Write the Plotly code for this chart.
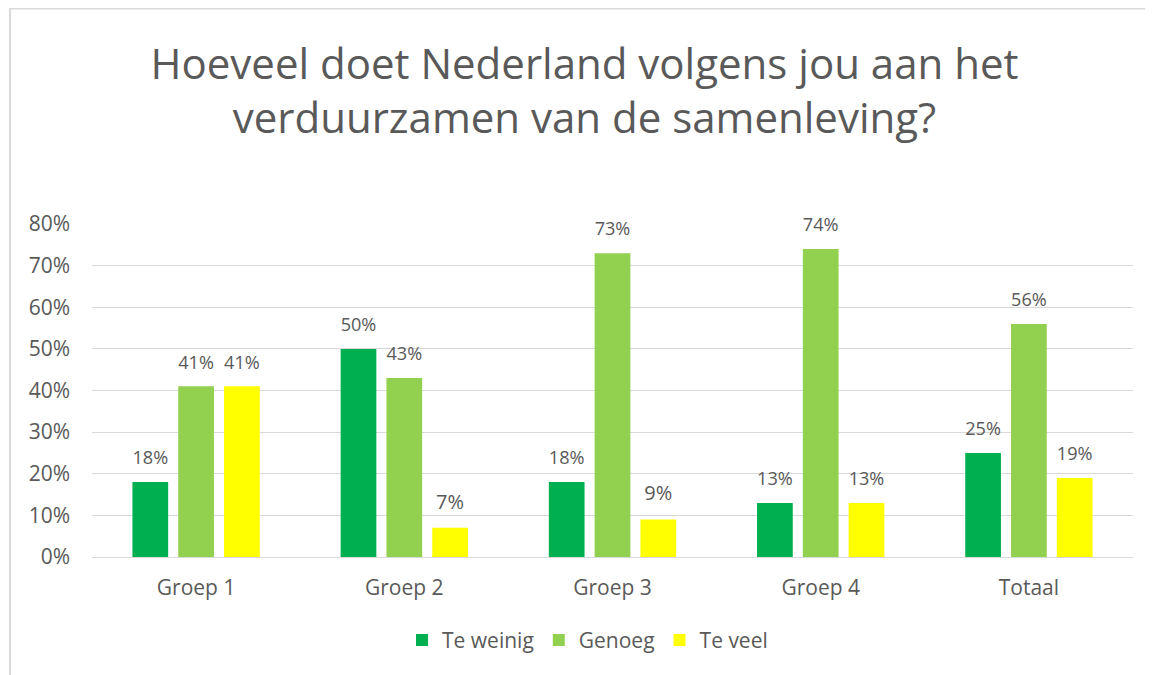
import plotly.graph_objects as go

categories = ["Groep 1", "Groep 2", "Groep 3", "Groep 4", "Totaal"]
te_weinig = [18, 50, 18, 13, 25]
genoeg = [41, 43, 73, 74, 56]
te_veel = [41, 7, 9, 13, 19]

series = [
    ("Te weinig", te_weinig, "#00B050"),
    ("Genoeg", genoeg, "#92D050"),
    ("Te veel", te_veel, "#FFFF00"),
]

grey = "#595959"
font = "Open Sans"

fig = go.Figure()
for name, vals, color in series:
    fig.add_trace(go.Bar(
        x=categories, y=vals, name=name,
        marker=dict(color=color, line=dict(width=0)),
        # small spacer line lifts the label a bit above the bar
        text=[f"<span style='font-size:20px'>{v}%</span><br><span style='font-size:8px'> </span>"
              for v in vals],
        textposition="outside",
        textfont=dict(size=11, color=grey, family=font),
        cliponaxis=False,
    ))

fig.update_layout(
    width=1153, height=675,
    paper_bgcolor="white", plot_bgcolor="white",
    barmode="group", bargap=0.34, bargroupgap=0.22,
    title=dict(
        text="Hoeveel doet Nederland volgens jou aan het<br>verduurzamen van de samenleving?",
        x=0.5, xanchor="center", y=0.895, yanchor="middle",
        font=dict(size=42, color=grey, family=font),
    ),
    margin=dict(l=84, r=28, t=216, b=126),
    legend=dict(
        orientation="h", x=0.476, xanchor="center", y=-0.25, yanchor="middle",
        font=dict(size=21, color=grey, family=font),
        itemwidth=30, traceorder="normal",
    ),
    xaxis=dict(
        tickfont=dict(size=21, color=grey, family=font),
        showline=True, linecolor="#D9D9D9", linewidth=1,
        ticks="", ticklabelstandoff=12,
    ),
    yaxis=dict(
        range=[0, 80], dtick=10, ticksuffix="%",
        tickfont=dict(size=21, color=grey, family=font),
        gridcolor="#D9D9D9", gridwidth=1, zeroline=False,
        ticklabelstandoff=21,
    ),
    shapes=[
        dict(type="line", xref="paper", yref="paper",
             x0=-0.0788, x1=1.05, y0=1.647, y1=1.647,
             line=dict(color="#D9D9D9", width=2)),
        dict(type="line", xref="paper", yref="paper",
             x0=-0.0788, x1=-0.0788, y0=1.65, y1=-0.5,
             line=dict(color="#D9D9D9", width=2)),
    ],
)

fig.write_html("out.html")
